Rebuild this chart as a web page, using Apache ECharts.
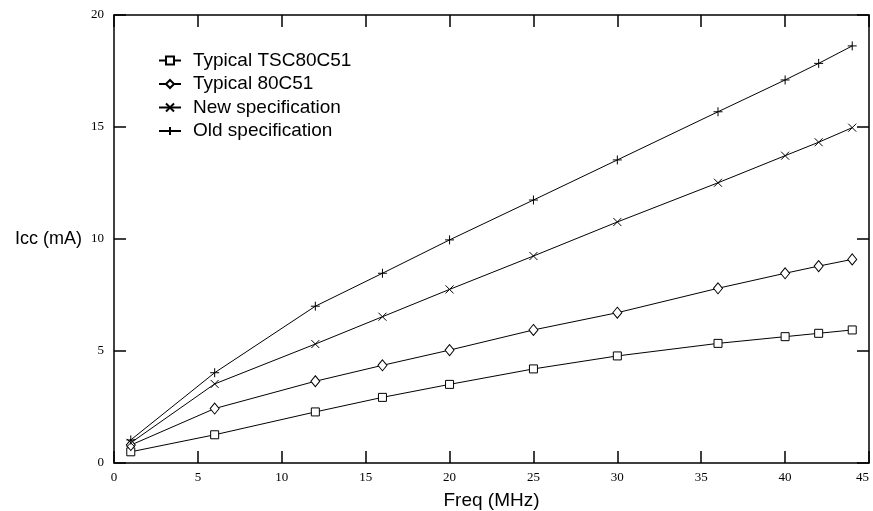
<!DOCTYPE html>
<html>
<head>
<meta charset="utf-8">
<script src="https://cdn.jsdelivr.net/npm/echarts@6/dist/echarts.min.js"></script>
<style>
  html, body { margin: 0; padding: 0; background: #fff; }
  #chart { width: 873px; height: 511px; }
</style>
</head>
<body>
<div id="chart"></div>
<script>
// Icc vs frequency for the 80C51 family
const freq = [1, 6, 12, 16, 20, 25, 30, 36, 40, 42, 44]
const tsc80c51 = [0.5, 1.26, 2.28, 2.93, 3.51, 4.2, 4.78, 5.34, 5.64, 5.79, 5.94]
const typ80c51 = [0.8, 2.43, 3.65, 4.36, 5.04, 5.94, 6.71, 7.8, 8.47, 8.79, 9.09]
const newSpec = [0.9, 3.53, 5.31, 6.53, 7.75, 9.24, 10.76, 12.51, 13.72, 14.32, 14.97]
const oldSpec = [1.03, 4.03, 7.0, 8.47, 9.96, 11.74, 13.53, 15.68, 17.1, 17.84, 18.62]
const seriesNames = ['Typical TSC80C51', 'Typical 80C51', 'New specification', 'Old specification']

const chart = echarts.init(document.getElementById('chart'))

const pair = (ys) => freq.map((x, i) => [x, ys[i]])

// shared look of the frame axes
const frameAxis = {
  type: 'value',
  splitLine: { show: false },
  axisLine: { show: true, onZero: false, lineStyle: { color: '#000', width: 1.5 } },
  axisTick: { show: true, inside: true, length: 12, lineStyle: { color: '#000', width: 1.5 } }
}
const tickFont = { color: '#000', fontFamily: 'Liberation Serif', fontSize: 13 }
const titleFont = { color: '#000', fontFamily: 'Liberation Sans', fontSize: 18 }

function lineSeries(name, ys, symbol, size) {
  return {
    name: name,
    type: 'line',
    data: pair(ys),
    symbol: symbol,
    symbolSize: size,
    showAllSymbol: true,
    lineStyle: { color: '#000', width: 1 },
    itemStyle: { color: '#fff', borderColor: '#000', borderWidth: 1 },
    emphasis: { disabled: true },
    z: 3
  }
}

const option = {
  animation: false,
  grid: { left: 114, right: 4, top: 15, bottom: 48, outerBoundsMode: 'none' },
  legend: {
    orient: 'vertical',
    left: 158,
    top: 51,
    padding: 0,
    itemWidth: 22,
    itemHeight: 10,
    itemGap: 4.5,
    data: seriesNames,
    textStyle: Object.assign({}, titleFont, { fontSize: 19, lineHeight: 19, padding: [0, 0, 0, 7] })
  },
  xAxis: [
    Object.assign({}, frameAxis, {
      min: 0, max: 45, interval: 5,
      name: 'Freq (MHz)',
      nameLocation: 'middle',
      nameGap: 28,
      nameTextStyle: Object.assign({}, titleFont, { fontSize: 19 }),
      axisLabel: Object.assign({ margin: 8, alignMaxLabel: 'right' }, tickFont)
    }),
    Object.assign({}, frameAxis, {
      position: 'top', min: 0, max: 45, interval: 5,
      axisLabel: { show: false }
    })
  ],
  yAxis: [
    Object.assign({}, frameAxis, {
      min: 0, max: 20, interval: 5,
      name: 'Icc (mA)',
      nameLocation: 'middle',
      nameRotate: 0,
      nameGap: 32,
      nameTextStyle: titleFont,
      axisLabel: Object.assign({ margin: 10 }, tickFont)
    }),
    Object.assign({}, frameAxis, {
      position: 'right', min: 0, max: 20, interval: 5,
      axisLabel: { show: false }
    })
  ],
  series: [
    lineSeries(seriesNames[0], tsc80c51, 'rect', 8),
    lineSeries(seriesNames[1], typ80c51, 'diamond', [9, 11]),
    lineSeries(seriesNames[2], newSpec, 'path://M0,0L10,10M10,0L0,10', 8),
    lineSeries(seriesNames[3], oldSpec, 'path://M5,0L5,10M0,5L10,5', 9)
  ]
}

chart.setOption(option)
</script>
</body>
</html>
